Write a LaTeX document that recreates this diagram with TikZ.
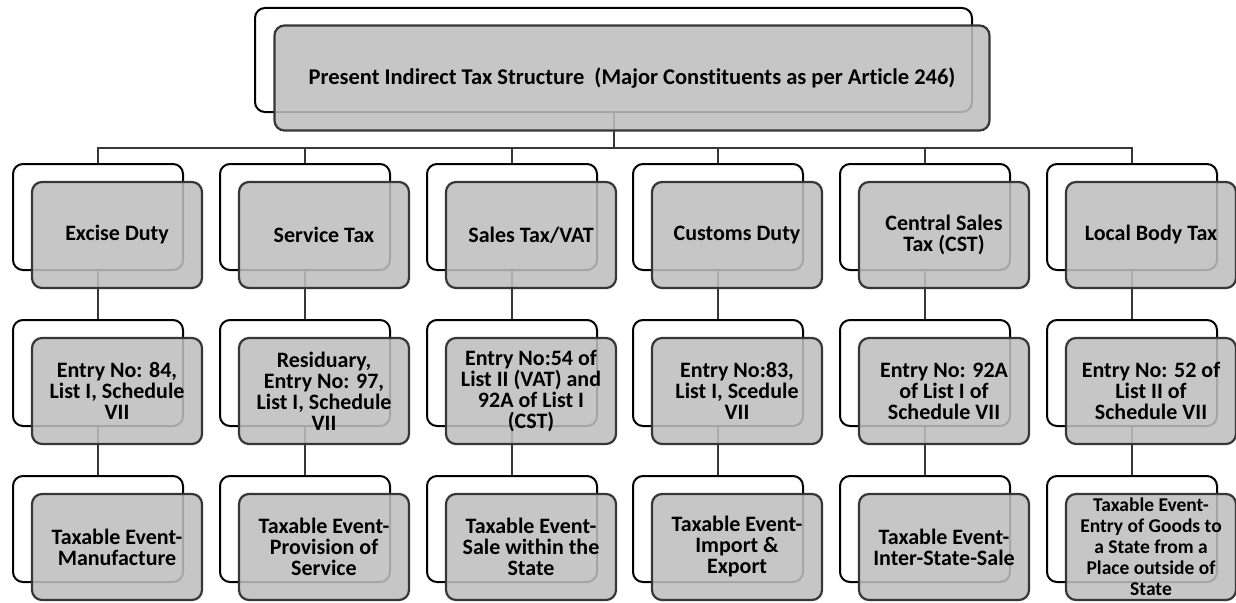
\documentclass[tikz,border=0pt]{standalone}
\usepackage{fontspec}
\setmainfont[Ligatures=NoCommon]{Carlito}
\definecolor{boxgray}{RGB}{190,190,190}
\definecolor{edgegray}{RGB}{55,55,55}
\begin{document}
\begin{tikzpicture}[x=1pt,y=-1pt,
    backbox/.style={draw=black,line width=2pt,fill=white,rounded corners=10pt,
      minimum width=170pt,minimum height=106pt,inner sep=0pt},
    frontbox/.style={draw=edgegray,line width=2.2pt,fill=boxgray,fill opacity=0.87,
      text opacity=1,rounded corners=10pt,minimum width=170pt,minimum height=106pt,
      align=center,inner sep=2pt,text=black,font=\fontsize{22}{21}\selectfont\bfseries},
    link/.style={draw=edgegray,line width=2pt}]
    \useasboundingbox (0,0) rectangle (1236,602);
    % back frames
    \node[backbox,minimum width=717pt,minimum height=104pt] (topb) at (613.5,60) {};
    \node[backbox] (edb) at (98,217) {};
    \node[backbox] (stb) at (305,217) {};
    \node[backbox] (vatb) at (512,217) {};
    \node[backbox] (cdb) at (718,217) {};
    \node[backbox] (cstb) at (925,217) {};
    \node[backbox] (lbtb) at (1132,217) {};
    \node[backbox] (ed2b) at (98,373) {};
    \node[backbox] (st2b) at (305,373) {};
    \node[backbox] (vat2b) at (512,373) {};
    \node[backbox] (cd2b) at (718,373) {};
    \node[backbox] (cst2b) at (925,373) {};
    \node[backbox] (lbt2b) at (1132,373) {};
    \node[backbox] (ed3b) at (98,529) {};
    \node[backbox] (st3b) at (305,529) {};
    \node[backbox] (vat3b) at (512,529) {};
    \node[backbox] (cd3b) at (718,529) {};
    \node[backbox] (cst3b) at (925,529) {};
    \node[backbox] (lbt3b) at (1132,529) {};
    % connectors
    \draw[link] (topb.south) -- ++(0,35) -| (edb.north);
    \draw[link] (topb.south) -- ++(0,35) -| (stb.north);
    \draw[link] (topb.south) -- ++(0,35) -| (vatb.north);
    \draw[link] (topb.south) -- ++(0,35) -| (cdb.north);
    \draw[link] (topb.south) -- ++(0,35) -| (cstb.north);
    \draw[link] (topb.south) -- ++(0,35) -| (lbtb.north);
    \draw[link] (edb.south) -- (ed2b.north);
    \draw[link] (stb.south) -- (st2b.north);
    \draw[link] (vatb.south) -- (vat2b.north);
    \draw[link] (cdb.south) -- (cd2b.north);
    \draw[link] (cstb.south) -- (cst2b.north);
    \draw[link] (lbtb.south) -- (lbt2b.north);
    \draw[link] (ed2b.south) -- (ed3b.north);
    \draw[link] (st2b.south) -- (st3b.north);
    \draw[link] (vat2b.south) -- (vat3b.north);
    \draw[link] (cd2b.south) -- (cd3b.north);
    \draw[link] (cst2b.south) -- (cst3b.north);
    \draw[link] (lbt2b.south) -- (lbt3b.north);
    % front boxes
    \node[frontbox,minimum width=715pt,minimum height=105pt,font=\fontsize{22.5}{22}\selectfont\bfseries] (top) at (632,78)
      {Present Indirect Tax Structure\ \ (Major Constituents as per Article 246)};
    \node[frontbox] (ed) at (117,235) {Excise Duty};
    \node[frontbox] (st) at (324,235) {Service Tax};
    \node[frontbox] (vat) at (531,235) {Sales Tax/VAT};
    \node[frontbox] (cd) at (737,235) {Customs Duty};
    \node[frontbox] (cst) at (944,235) {Central Sales\\Tax (CST)};
    \node[frontbox] (lbt) at (1151,235) {Local Body Tax};
    \node[frontbox] (ed2) at (117,391) {Entry No: 84,\\List I, Schedule\\VII};
    \node[frontbox] (st2) at (324,391) {Residuary,\\Entry No: 97,\\List I, Schedule\\VII};
    \node[frontbox] (vat2) at (531,391) {Entry No:54 of\\List II (VAT) and\\92A of List I\\(CST)};
    \node[frontbox] (cd2) at (737,391) {Entry No:83,\\List I, Scedule\\VII};
    \node[frontbox] (cst2) at (944,391) {Entry No: 92A\\of List I of\\Schedule VII};
    \node[frontbox] (lbt2) at (1151,391) {Entry No: 52 of\\List II of\\Schedule VII};
    \node[frontbox] (ed3) at (117,547) {Taxable Event-\\Manufacture};
    \node[frontbox] (st3) at (324,547) {Taxable Event-\\Provision of\\Service};
    \node[frontbox] (vat3) at (531,547) {Taxable Event-\\Sale within the\\State};
    \node[frontbox] (cd3) at (737,547) {Taxable Event-\\Import \&\\Export};
    \node[frontbox] (cst3) at (944,547) {Taxable Event-\\Inter-State-Sale};
    \node[frontbox,inner ysep=0pt,font=\fontsize{19.5}{21}\selectfont\bfseries] (lbt3) at (1151,547)
      {Taxable Event-\\Entry of Goods to\\a State from a\\Place outside of\\State};
\end{tikzpicture}
\end{document}
